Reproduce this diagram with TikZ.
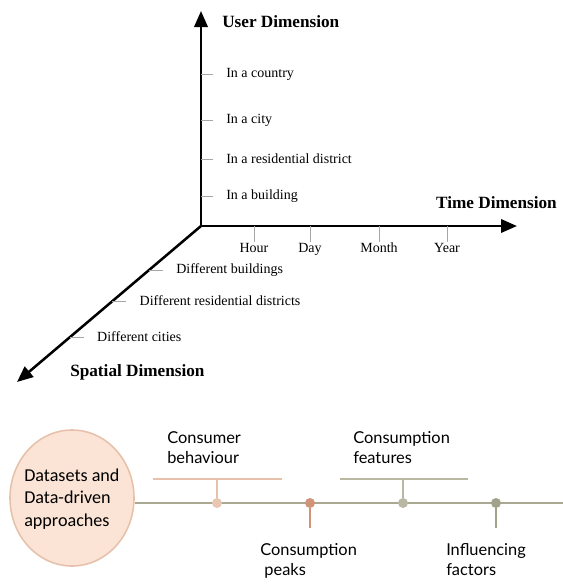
\documentclass[tikz,border=0pt]{standalone}
\usepackage{fontspec}
\setmainfont{Liberation Serif}
\newfontfamily\calib{Carlito}
\newfontfamily\labfont{Lato}
\usetikzlibrary{arrows.meta,shapes.geometric}

\definecolor{peachfill}{HTML}{FBE4D6}
\definecolor{peachline}{HTML}{E6C2AC}
\definecolor{peachdot}{HTML}{E8C6B2}
\definecolor{rustdot}{HTML}{D29478}
\definecolor{sagedot}{HTML}{B9B9A3}
\definecolor{olivedot}{HTML}{A2A28A}
\definecolor{timeline}{HTML}{A9A993}

\tikzset{
  axis/.style={line width=1.9pt,-{Triangle[length=12pt,width=10pt]}},
  tick/.style={gray!70,line width=0.7pt},
  axtitle/.style={font=\fontsize{12.9}{15}\selectfont\bfseries,inner sep=0pt},
  axlabel/.style={font=\fontsize{10.5}{12}\selectfont,inner sep=0pt},
  dot/.style={circle,fill=#1,inner sep=0pt,minimum size=7.5pt},
  milestone/.style={font=\labfont\fontsize{12.3}{15}\selectfont,align=left,inner sep=0pt},
}

\begin{document}
\begin{tikzpicture}[x=0.75pt,y=-0.75pt]
  \useasboundingbox (0,0) rectangle (563,587);

  % axes
  \coordinate (O) at (201,226);
  \draw[axis] (O) -- (201,11) coordinate (uend);
  \draw[axis] (O) -- (517,226) coordinate (tend);
  \draw[axis] (O) -- (17,382) coordinate (send);
  \node[axtitle,anchor=west] (utitle) at (222,22) {User Dimension};
  \node[axtitle,anchor=east] (ttitle) at (557,203) {Time Dimension};
  \node[axtitle,anchor=west] (stitle) at (70,372) {Spatial Dimension};

  % user dimension
  \foreach \y/\t [count=\i] in {74/In a country,120/In a city,159/In a residential district,196/In a building} {
    \node[axlabel,anchor=west] (u\i) at (226,\y) {\t};
    \draw[tick] (201,\y) -- ([xshift=-10]u\i.west);
  }

  % time dimension
  \foreach \x/\t [count=\i] in {254/Hour,310/Day,379/Month,447/Year} {
    \node[axlabel,anchor=north] (t\i) at (\x,243) {\t};
    \draw[tick] (\x,226) -- ([yshift=1]t\i.north);
  }

  % spatial dimension
  \foreach \y/\t [count=\i] in {270/Different buildings,301/Different residential districts,337/Different cities} {
    \node[axlabel,anchor=west] (s\i) at ({201-(\y-226)*1.1806+27},\y) {\t};
    \draw[tick] ({201-(\y-226)*1.1806},\y) -- ([xshift=-10]s\i.west);
  }

  % timeline
  \node[ellipse,draw=peachline,line width=1.2pt,fill=peachfill,minimum width=93pt,minimum height=102pt,inner sep=0pt] (data) at (72,498) {};
  \node[font=\calib\fontsize{13.6}{16.8}\selectfont,align=left,anchor=west,inner sep=0pt] (datatext) at (24,499) {Datasets and\\Data-driven\\approaches};
  \draw[timeline,line width=1.6pt] (data.east |- 0,503) -- (563,503) coordinate (lineend);

  \node[dot=peachdot] (d1) at (217,503) {};
  \node[dot=rustdot] (d2) at (310,503) {};
  \node[dot=sagedot] (d3) at (403,503) {};
  \node[dot=olivedot] (d4) at (496,503) {};

  \draw[peachline,line width=1.3pt] (d1) -- (217,479) coordinate (b1);
  \draw[peachline,line width=1.3pt] (153,479) -- (282,479);
  \draw[sagedot,line width=1.3pt] (d3) -- (403,479) coordinate (b3);
  \draw[sagedot,line width=1.3pt] (340,479) -- (468,479);
  \draw[rustdot,line width=1.3pt] (d2) -- (310,528) coordinate (b2);
  \draw[olivedot,line width=1.3pt] (d4) -- (496,528) coordinate (b4);

  \node[milestone,anchor=north west] (m1) at (167,431) {Consumer\\behaviour};
  \node[milestone,anchor=north west] (m3) at (353,431) {Consumption\\features};
  \node[milestone,anchor=north west] (m2) at (260,543) {Consumption\\\ peaks};
  \node[milestone,anchor=north west] (m4) at (446,543) {Influencing\\factors};
\end{tikzpicture}
\end{document}
